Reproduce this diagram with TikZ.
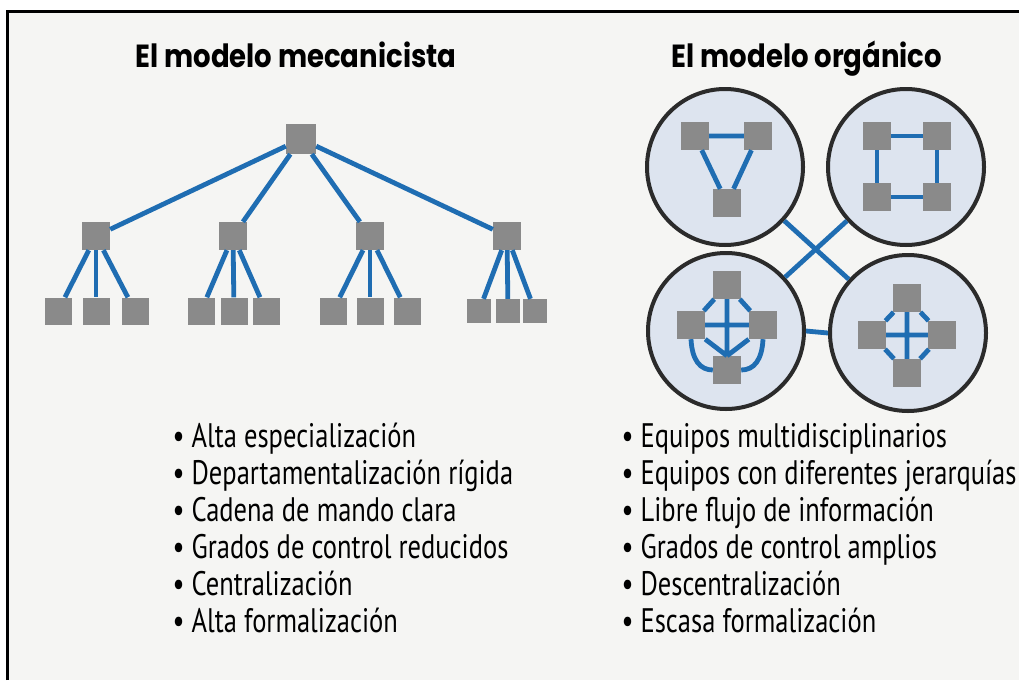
\documentclass[tikz,border=0pt]{standalone}
\usepackage{fontspec}
\newfontfamily\headfont{Poppins}[FakeStretch=0.86]
\newfontfamily\listfont{PT Sans}[FakeStretch=0.78]
\definecolor{panel}{HTML}{F5F5F3}
\definecolor{linkblue}{HTML}{1F6DB2}
\definecolor{boxgray}{HTML}{8A8A8A}
\definecolor{teamfill}{HTML}{DDE4EF}
\definecolor{ring}{HTML}{2B2B2B}
\begin{document}
\begin{tikzpicture}[x=1pt,y=-1pt,
  box/.style={fill=boxgray,minimum size=#1,inner sep=0pt,node contents={}},box/.default=28,
  link/.style={draw=linkblue,line width=4.8pt},
  team/.style={circle,draw=ring,line width=4pt,fill=teamfill,minimum size=156,inner sep=0pt,node contents={}},
  heading/.style={anchor=base,font=\headfont\bfseries\fontsize{32}{38}\selectfont},
  item/.style={anchor=base west,font=\listfont\fontsize{34}{40}\selectfont}]
\useasboundingbox (0,0) rectangle (1019,680);
\fill[white] (0,0) rectangle (1019,680);
\fill[panel] (7,11) rectangle (1019,680);
\draw[line width=3pt] (7,680) -- (7,11) -- (1019,11);
% mechanistic model
\node[heading] (mechtitle) at (296,67) {El modelo mecanicista};
\node (root) at (301,139) [box=30];
\foreach \i/\x in {1/96,2/233,3/370,4/507}{
  \node (m\i) at (\x,236) [box];
  \draw[link] (root) -- (m\i);
}
\foreach \i/\a/\b/\c/\s in {1/58/96/135/27,2/201/234/266/27,3/333/370/407/27,4/479/508/535/24}{
  \foreach \j/\x in {1/\a,2/\b,3/\c}{
    \node (m\i\j) at (\x,311) [box=\s];
    \draw[link] (m\i) -- (m\i\j);
  }
}
% organic model
\node[heading] (orgtitle) at (807,67) {El modelo orgánico};
\node (tl) at (725,167) [team];
\node (tr) at (906,167) [team];
\node (bl) at (726,331) [team];
\node (br) at (908,333) [team];
\draw[link] (tl) -- (br);
\draw[link] (tr) -- (bl);
\draw[link] (bl.east) -- (br.west);
% triangle team
\node (tla) at (695,136) [box];
\node (tlb) at (758,136) [box];
\node (tlc) at (727,203) [box];
\draw[link] (tla) -- (tlb) (tla) -- (tlc) (tlb) -- (tlc);
% square team
\node (tra) at (877,136) [box];
\node (trb) at (937,136) [box];
\node (trc) at (877,197) [box];
\node (trd) at (937,197) [box];
\draw[link] (tra) -- (trb) -- (trd) -- (trc) -- (tra);
% web team
\node (blt) at (727,285) [box];
\node (bll) at (691,325) [box];
\node (blr) at (763,325) [box];
\node (blb) at (727,370) [box];
\draw[link] (blt) -- (blb) (bll) -- (blr) (blt) -- (bll) (blt) -- (blr)
  (bll.south east) -- (blb.north) (blr.south west) -- (blb.north)
  (bll.south) .. controls (692,360) and (700,370) .. (blb.west)
  (blr.south) .. controls (762,360) and (754,370) .. (blb.east);
% diamond team
\node (brt) at (907,298) [box];
\node (brl) at (872,335) [box];
\node (brr) at (942,335) [box];
\node (brb) at (907,373) [box];
\draw[link] (brt) -- (brb) (brl) -- (brr) (brt) -- (brl) -- (brb) -- (brr) -- (brt);
% lists
\foreach \n/\t in {1/Alta especialización,2/Departamentalización rígida,3/Cadena de mando clara,
  4/Grados de control reducidos,5/Centralización,6/Alta formalización}{
  \node[item] (mech\n) at (169,447+37*\n-37) {• \t};
}
\foreach \n/\t in {1/Equipos multidisciplinarios,2/Equipos con diferentes jerarquías,3/Libre flujo de información,
  4/Grados de control amplios,5/Descentralización,6/Escasa formalización}{
  \node[item] (org\n) at (618,447+37*\n-37) {• \t};
}
\end{tikzpicture}
\end{document}
